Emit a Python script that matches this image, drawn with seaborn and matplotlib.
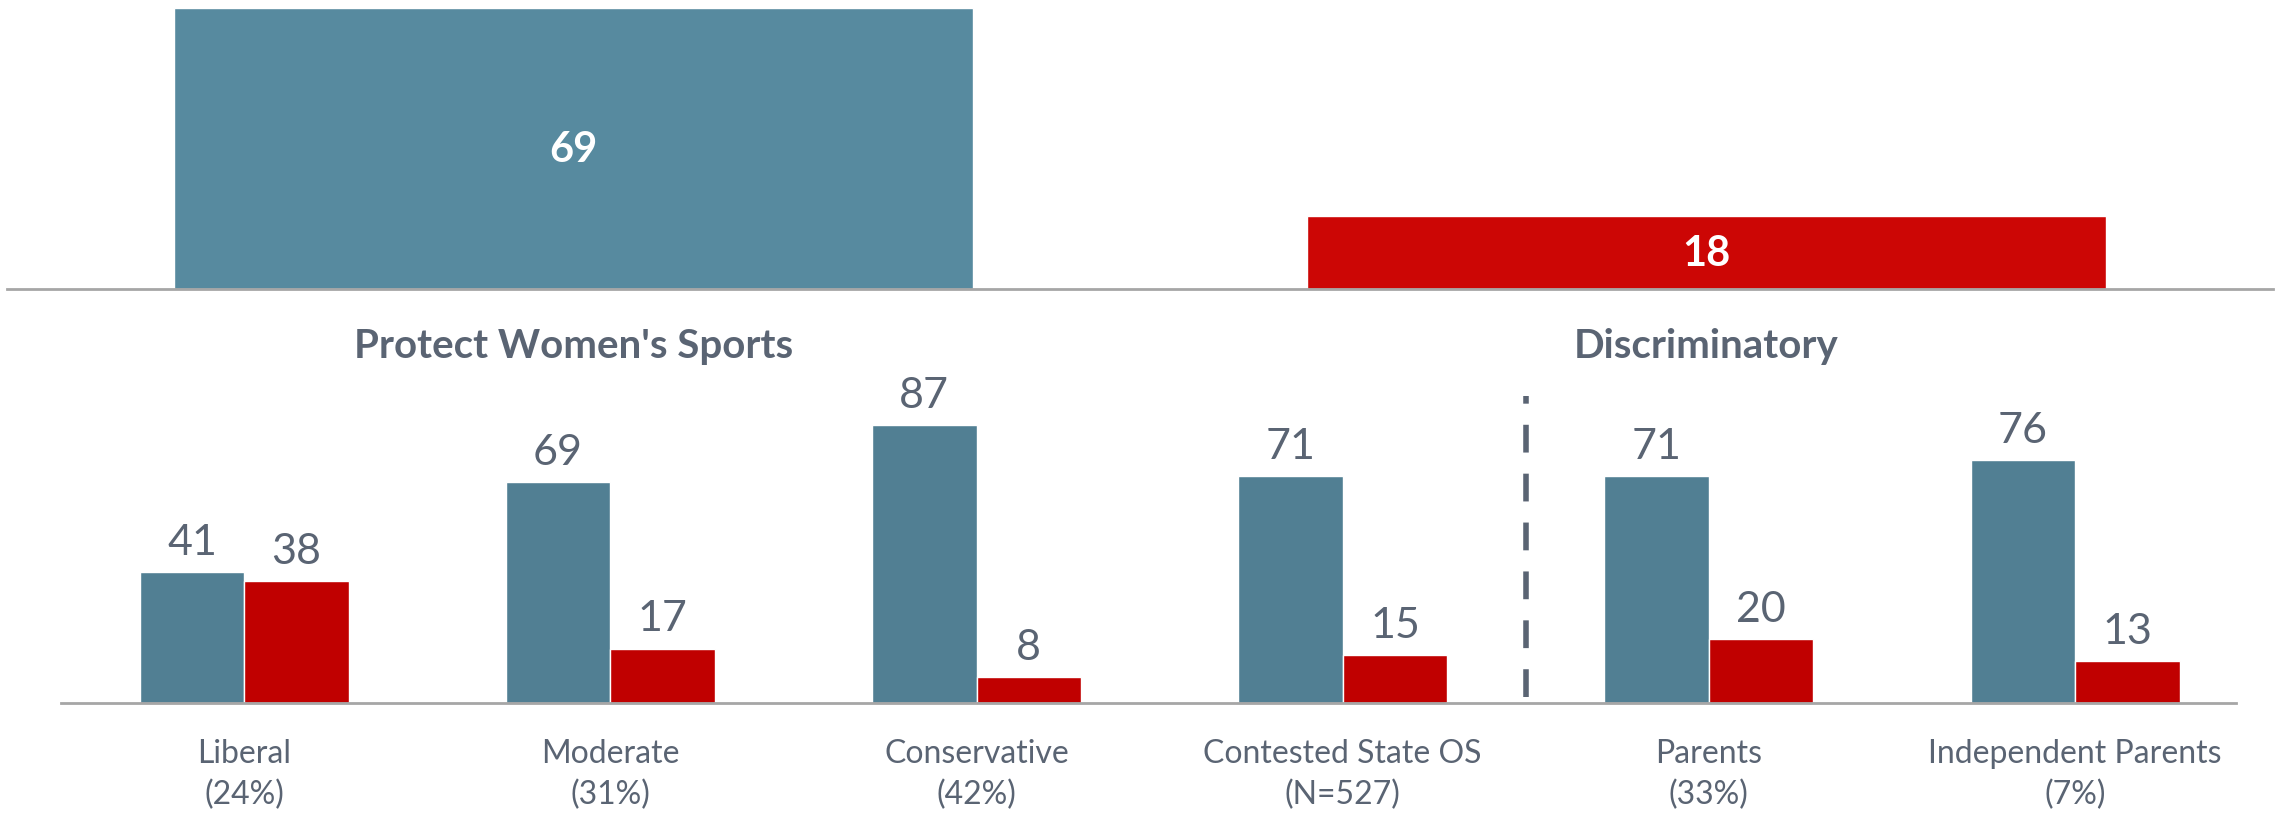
import numpy as np
import pandas as pd
import seaborn as sns
import matplotlib.pyplot as plt

# datos
topics = ["Protect Women's Sports", "Discriminatory"]
overall = [69, 18]

groups = ["Liberal\n(24%)", "Moderate\n(31%)", "Conservative\n(42%)",
          "Contested State OS\n(N=527)", "Parents\n(33%)", "Independent Parents\n(7%)"]
protect = [41, 69, 87, 71, 71, 76]
discrim = [38, 17, 8, 15, 20, 13]

blue_top, red_top = "#578A9F", "#CC0605"
blue, red = "#517F93", "#C00000"
grey_txt = "#5A6473"

sns.set_style("white")
plt.rcParams["font.family"] = ["Lato", "DejaVu Sans"]

fig = plt.figure(figsize=(22.8, 8.2), dpi=100)

# panel superior
ax1 = fig.add_axes([0.003, 0.646, 0.994, 0.344])
sns.barplot(x=topics, y=overall, hue=topics, palette=[blue_top, red_top],
            width=0.705, legend=False, ax=ax1, saturation=1)
ax1.set_xlim(-0.5, 1.5)
ax1.set_ylim(0, 69.3)
for c in ax1.containers:
    ax1.bar_label(c, label_type="center", color="white", fontsize=30, fontweight="bold")
ax1.set_yticks([])
ax1.tick_params(axis="x", length=0, pad=27, labelsize=29, labelcolor=grey_txt)
for t in ax1.get_xticklabels():
    t.set_fontweight("bold")
sns.despine(ax=ax1, left=True)
ax1.spines["bottom"].set_color("#A6A6A6")
ax1.spines["bottom"].set_linewidth(2)
ax1.set_xlabel("")

# panel inferior
df = pd.DataFrame({
    "group": groups * 2,
    "value": protect + discrim,
    "serie": ["Protect"] * len(groups) + ["Discrim"] * len(groups),
})
ax2 = fig.add_axes([0.0268, 0.1415, 0.954, 0.39])
sns.barplot(data=df, x="group", y="value", hue="serie", palette=[blue, red],
            width=0.571, legend=False, ax=ax2, saturation=1)
ax2.set_xlim(-0.5, 5.44)
ax2.set_ylim(0, 100)
for c in ax2.containers:
    ax2.bar_label(c, padding=8, color=grey_txt, fontsize=31)
ax2.plot([3.5, 3.5], [2, 96], color=grey_txt, lw=4, dashes=(5, 3.8))
ax2.set_yticks([])
ax2.tick_params(axis="x", length=0, pad=25, labelsize=23, labelcolor=grey_txt)
for t in ax2.get_xticklabels():
    t.set_linespacing(1.45)
sns.despine(ax=ax2, left=True)
ax2.spines["bottom"].set_color("#A6A6A6")
ax2.spines["bottom"].set_linewidth(2)
ax2.set_xlabel("")
ax2.set_ylabel("")

fig.savefig("out.png", dpi=100)
